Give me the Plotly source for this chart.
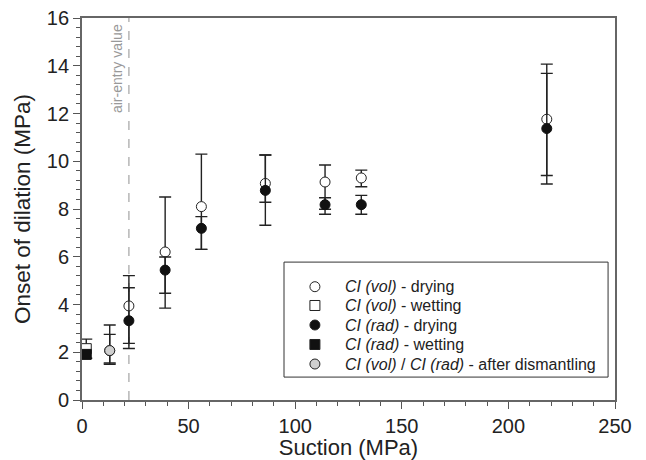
import plotly.graph_objects as go

# ---- data ----
dry_x = [22, 39, 56, 86, 114, 131, 218]

vol_dry_y = [3.94, 6.20, 8.10, 9.07, 9.13, 9.30, 11.76]
vol_dry_hi = [5.21, 8.50, 10.30, 10.26, 9.84, 9.63, 14.07]
vol_dry_lo = [2.37, 3.85, 6.31, 7.32, 7.78, 8.93, 9.40]

rad_dry_y = [3.32, 5.44, 7.19, 8.78, 8.18, 8.18, 11.37]
rad_dry_hi = [4.70, 5.99, 7.68, 10.26, 8.47, 8.57, 13.68]
rad_dry_lo = [2.16, 4.47, 6.31, 8.28, 7.99, 7.78, 9.05]

wet_x = [2.0]
vol_wet_y = [2.15]
vol_wet_hi = [2.55]
vol_wet_lo = [1.75]
rad_wet_y = [1.91]

dis_x = [13, 13]
dis_y = [2.07, 2.07]
dis_hi = [3.14, 2.75]
dis_lo = [1.50, 1.55]

air_entry = 22

legend_names = [
    "<i>CI (vol)</i> - drying",
    "<i>CI (vol)</i> - wetting",
    "<i>CI (rad)</i> - drying",
    "<i>CI (rad)</i> - wetting",
    "<i>CI (vol)</i> / <i>CI (rad)</i> - after dismantling",
]
legend_symbols = ["circle", "rect", "circle", "rect", "circle"]
legend_fills = ["white", "white", "#111111", "#111111", "#cfcfcf"]

FONT = "Liberation Sans, Arial, sans-serif"
EB = "#222222"


def err(y, hi, lo):
    return dict(type="data", symmetric=False,
                array=[h - v for h, v in zip(hi, y)],
                arrayminus=[v - l for v, l in zip(y, lo)],
                color=EB, thickness=1.4, width=6)


fig = go.Figure()

fig.add_trace(go.Scatter(x=dis_x, y=dis_y, mode="markers", name=legend_names[4],
                         showlegend=False, error_y=err(dis_y, dis_hi, dis_lo),
                         marker=dict(symbol="circle", size=10, color="#cfcfcf",
                                     line=dict(color="#222", width=1))))
fig.add_trace(go.Scatter(x=wet_x, y=vol_wet_y, mode="markers", name=legend_names[1],
                         showlegend=False, error_y=err(vol_wet_y, vol_wet_hi, vol_wet_lo),
                         marker=dict(symbol="square", size=10, color="white",
                                     line=dict(color="#222", width=1))))
fig.add_trace(go.Scatter(x=wet_x, y=rad_wet_y, mode="markers", name=legend_names[3],
                         showlegend=False,
                         marker=dict(symbol="square", size=10, color="#111",
                                     line=dict(color="#111", width=1))))
fig.add_trace(go.Scatter(x=dry_x, y=vol_dry_y, mode="markers", name=legend_names[0],
                         showlegend=False, error_y=err(vol_dry_y, vol_dry_hi, vol_dry_lo),
                         marker=dict(symbol="circle", size=10, color="white",
                                     line=dict(color="#222", width=1))))
fig.add_trace(go.Scatter(x=dry_x, y=rad_dry_y, mode="markers", name=legend_names[2],
                         showlegend=False, error_y=err(rad_dry_y, rad_dry_hi, rad_dry_lo),
                         marker=dict(symbol="circle", size=10, color="#111",
                                     line=dict(color="#111", width=1))))

# air-entry line
fig.add_shape(type="line", x0=air_entry, x1=air_entry, y0=0, y1=16,
              xref="x", yref="y", layer="below",
              line=dict(color="#aaaaaa", width=1.3, dash="dash"))
fig.add_annotation(x=air_entry, y=13.9, xref="x", yref="y", text="air-entry value",
                   textangle=-90, showarrow=False, xshift=-12,
                   font=dict(family=FONT, size=14, color="#999999"))

# custom legend box
fig.add_shape(type="rect", xref="paper", yref="paper", x0=0.379, x1=0.987,
              y0=0.060, y1=0.361, layer="above",
              line=dict(color="#333", width=1), fillcolor="white")
row_y = [0.2966, 0.2474, 0.1963, 0.1453, 0.0942]
for name, sym, fill, yy in zip(legend_names, legend_symbols, legend_fills, row_y):
    fig.add_shape(type=sym, xref="paper", yref="paper", xsizemode="pixel",
                  ysizemode="pixel", xanchor=0.437, yanchor=yy,
                  x0=-5, x1=5, y0=-5, y1=5, layer="above",
                  line=dict(color="#222", width=1), fillcolor=fill)
    fig.add_annotation(x=0.4897, y=yy, xref="paper", yref="paper", text=name,
                       showarrow=False, xanchor="left", yanchor="middle",
                       font=dict(family=FONT, size=16, color="#222"))

axis_common = dict(
    showgrid=False, zeroline=False, showline=True, linecolor="#666666", linewidth=1.8,
    mirror=True, ticks="outside", ticklen=7, tickwidth=1, tickcolor="#555",
    tickfont=dict(family=FONT, size=20, color="#222"), automargin=False,
)

fig.update_xaxes(range=[0, 250], dtick=50, tick0=0,
                 title=dict(text="Suction (MPa)", standoff=0,
                            font=dict(family=FONT, size=22, color="#222")),
                 minor=dict(dtick=10, ticks="outside", ticklen=4, tickcolor="#555"),
                 **axis_common)
fig.update_yaxes(range=[0, 16], dtick=2, tick0=0,
                 title=dict(text="Onset of dilation (MPa)", standoff=10,
                            font=dict(family=FONT, size=22.5, color="#222")),
                 minor=dict(dtick=0.4, ticks="outside", ticklen=4, tickcolor="#555"),
                 **axis_common)

fig.update_layout(
    width=646, height=460,
    margin=dict(l=82, r=31, t=18, b=60),
    plot_bgcolor="white", paper_bgcolor="white",
    font=dict(family=FONT, color="#222"),
    showlegend=False,
)

fig.write_html("out.html")
